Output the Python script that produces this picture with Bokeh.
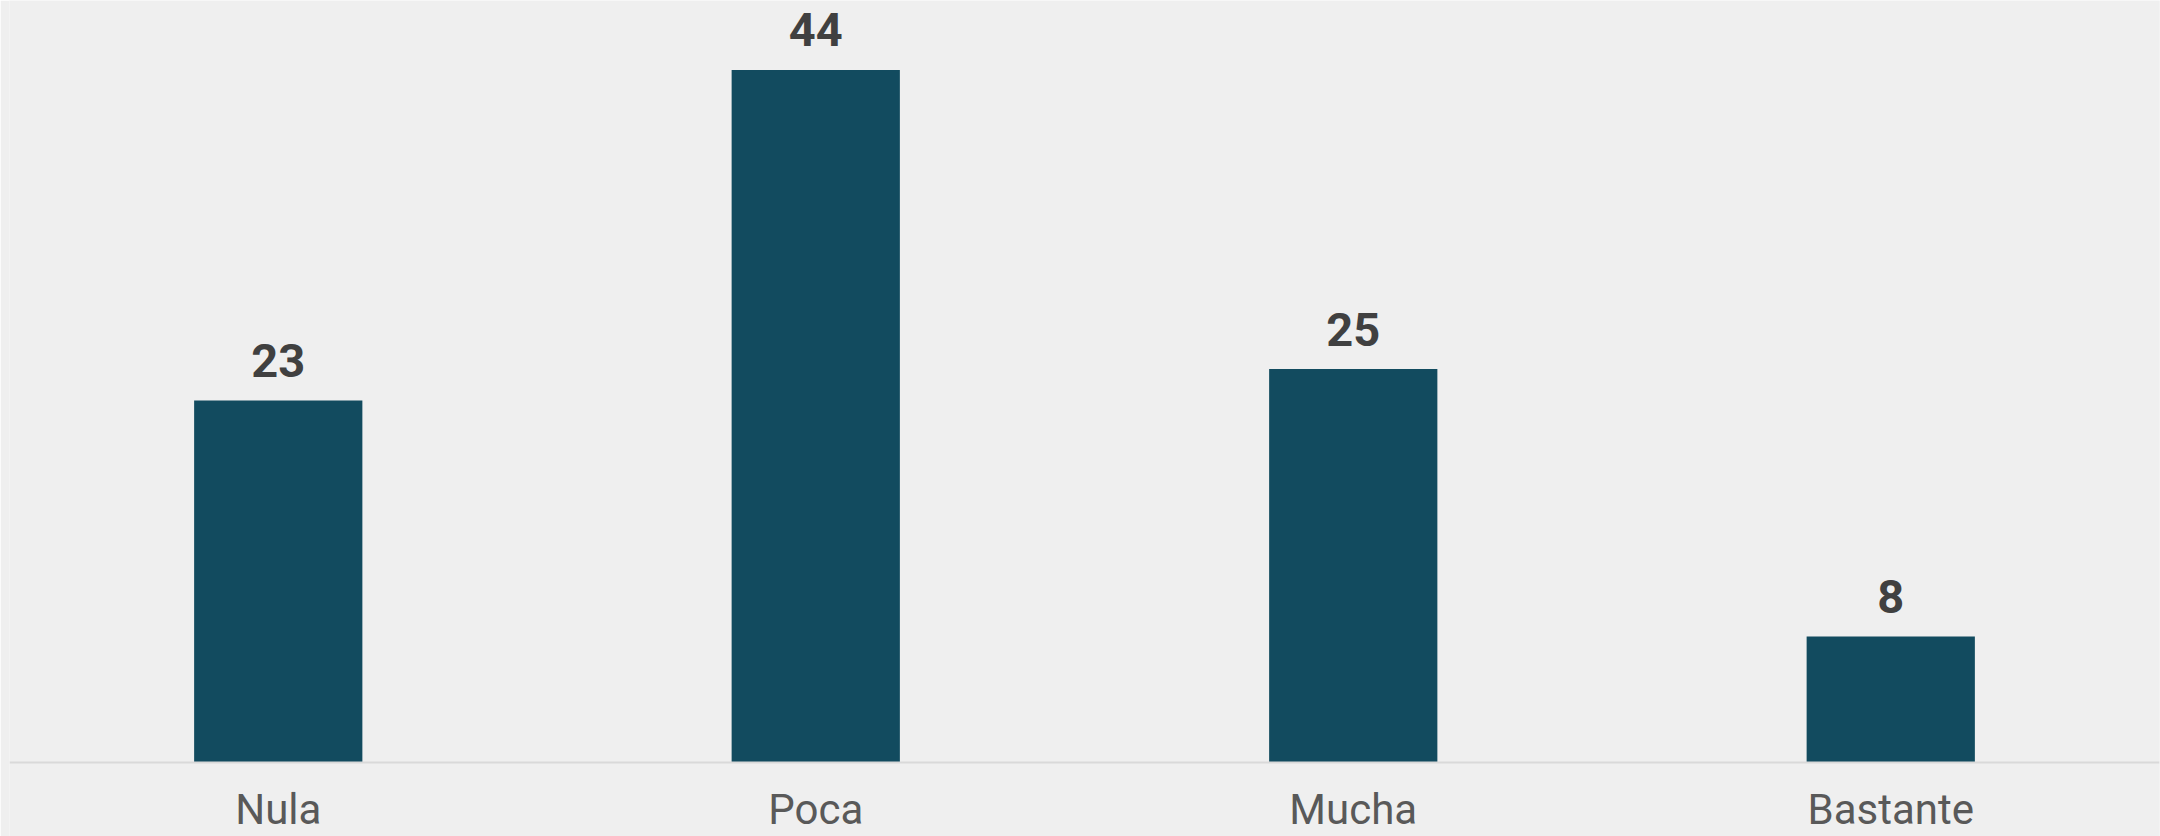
from bokeh.plotting import figure
from bokeh.models import ColumnDataSource, FactorRange, Range1d, Span
from bokeh.core.properties import value
from bokeh.embed import file_html
from bokeh.resources import INLINE

categories = ["Nula", "Poca", "Mucha", "Bastante"]
values = [23, 44, 25, 8]
value_labels = [str(v) for v in values]

W, H = 2160, 836
px_per_unit = 15.74
base_px = 762

src = ColumnDataSource(dict(cat=categories, val=values, lab=value_labels,
                            zero=[0] * len(categories)))

p = figure(width=W, height=H, output_backend="svg", toolbar_location=None,
           x_range=FactorRange(*categories, range_padding=0),
           y_range=Range1d(-(H - base_px) / px_per_unit, base_px / px_per_unit),
           x_axis_location=None, y_axis_location=None,
           min_border=0, min_border_left=9, min_border_right=1,
           min_border_top=0, min_border_bottom=0)
p.background_fill_color = "#efefef"
p.border_fill_color = "#efefef"
p.outline_line_color = None
p.grid.visible = False

p.vbar(x="cat", top="val", bottom=0, width=0.313, source=src,
       fill_color="#124b5f", line_color=None)

p.add_layout(Span(location=0, dimension="width", line_color="#d9d9d9", line_width=2))

p.text(x="cat", y="val", text="lab", source=src, text_align="center",
       text_baseline="alphabetic", y_offset=-40,
       text_font=value("Roboto"), text_font_style="bold",
       text_font_size="47px", text_color="#404040")

p.text(x="cat", y="zero", text="cat", source=src, text_align="center",
       text_baseline="alphabetic", y_offset=47,
       text_font=value("Roboto"), text_font_size="42px", text_color="#595959")

open("out.html", "w").write(file_html(p, INLINE))
